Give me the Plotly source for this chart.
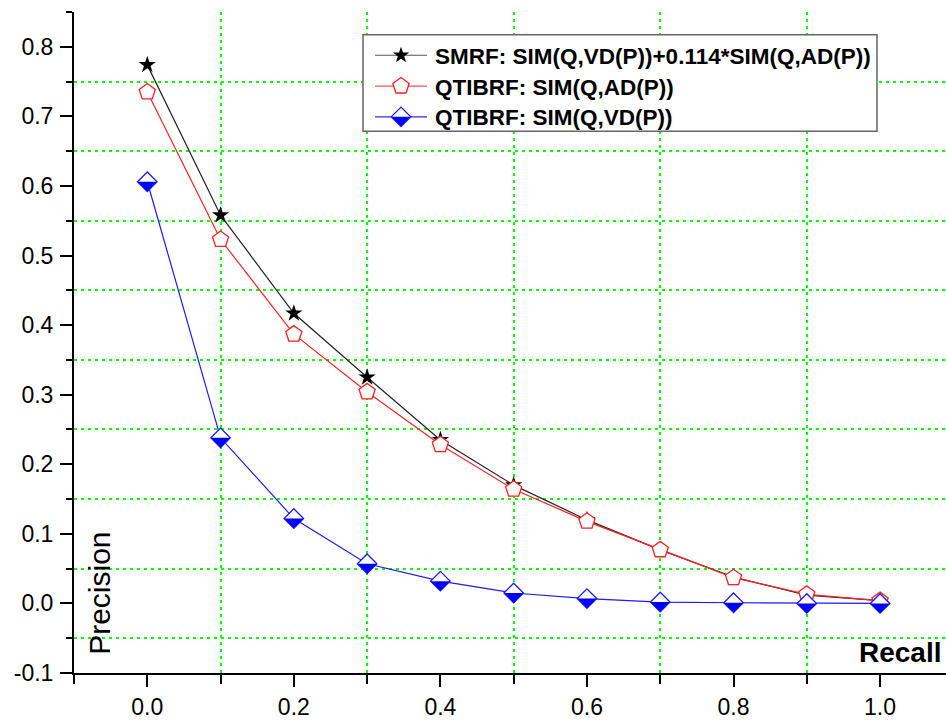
import math
import plotly.graph_objects as go

recall = [0.0, 0.1, 0.2, 0.3, 0.4, 0.5, 0.6, 0.7, 0.8, 0.9, 1.0]
smrf = [0.774, 0.558, 0.417, 0.325, 0.235, 0.170, 0.120, 0.077, 0.038, 0.012, 0.004]
qtibrf_ad = [0.735, 0.523, 0.387, 0.304, 0.228, 0.164, 0.118, 0.077, 0.037, 0.013, 0.004]
qtibrf_vd = [0.606, 0.238, 0.122, 0.057, 0.032, 0.015, 0.007, 0.002, 0.001, 0.0, 0.0]

names = [
    "SMRF: SIM(Q,VD(P))+0.114*SIM(Q,AD(P))",
    "QTIBRF: SIM(Q,AD(P))",
    "QTIBRF: SIM(Q,VD(P))",
]

xtick_vals = [0.0, 0.2, 0.4, 0.6, 0.8, 1.0]
xtick_text = ["0.0", "0.2", "0.4", "0.6", "0.8", "1.0"]
ytick_vals = [-0.1, 0.0, 0.1, 0.2, 0.3, 0.4, 0.5, 0.6, 0.7, 0.8]
ytick_text = ["-0.1", "0.0", "0.1", "0.2", "0.3", "0.4", "0.5", "0.6", "0.7", "0.8"]

FONT = "Liberation Sans, Arial, sans-serif"
GRID = "#00ff00"
BLACK, RED, BLUE = "#111111", "#ff2020", "#1a1aff"

# plot-area geometry (pixels) used to place the hand-built legend
L, R, T, B = 74, 946, 12, 677


def px_x(p):
    return (p - L) / (R - L)


def px_y(p):
    return (B - p) / (B - T)


def poly(points):
    return "M" + " L".join(f"{x:.2f},{y:.2f}" for x, y in points) + " Z"


def star_path(ro, ri):
    pts = []
    for k in range(10):
        a = math.pi / 2 + k * math.pi / 5
        rr = ro if k % 2 == 0 else ri
        pts.append((rr * math.cos(a), rr * math.sin(a)))
    return poly(pts)


def pentagon_path(r):
    return poly([(r * math.cos(math.pi / 2 + k * 2 * math.pi / 5),
                  r * math.sin(math.pi / 2 + k * 2 * math.pi / 5)) for k in range(5)])


DIA = 9.75
HALF = poly([(-DIA, 0), (DIA, 0), (0, -DIA)])
DIAMOND = poly([(-DIA, 0), (0, DIA), (DIA, 0), (0, -DIA)])

fig = go.Figure()
fig.add_trace(go.Scatter(
    x=recall, y=smrf, name=names[0], mode="lines+markers",
    line=dict(color="#222222", width=1.2),
    marker=dict(symbol="star", size=13, color="black", line=dict(width=0)),
))
fig.add_trace(go.Scatter(
    x=recall, y=qtibrf_ad, name=names[1], mode="lines+markers",
    line=dict(color=RED, width=1.2),
    marker=dict(symbol="pentagon", size=17, color="white",
                line=dict(color=RED, width=1.3)),
))
fig.add_trace(go.Scatter(
    x=recall, y=qtibrf_vd, name=names[2], mode="lines+markers",
    line=dict(color=BLUE, width=1.2),
    marker=dict(symbol="diamond", size=15, color="white",
                line=dict(color=BLUE, width=1.3)),
))

shapes = []
# bottom-half fill of the blue diamonds (pixel-sized shapes anchored on the data)
for xv, yv in zip(recall, qtibrf_vd):
    shapes.append(dict(
        type="path", xref="x", yref="y", xsizemode="pixel", ysizemode="pixel",
        xanchor=xv, yanchor=yv, path=HALF,
        fillcolor="#0000ff", line=dict(width=0), layer="above",
    ))

# ---- hand-built legend ----
box = dict(x0=363, x1=877, y0=35, y1=132)
shapes.append(dict(type="rect", xref="paper", yref="paper",
                   x0=px_x(box["x0"]), x1=px_x(box["x1"]),
                   y0=px_y(box["y1"]), y1=px_y(box["y0"]),
                   fillcolor="white", line=dict(color="#666666", width=1.5), layer="above"))
rows = [55.5, 86.5, 117.5]
line_cols = ["#555555", "#ff5050", "#2a2aff"]
line_x0, line_x1, mark_x, text_x = 375, 427, 401, 433
annotations = []
for row, col, name in zip(rows, line_cols, names):
    shapes.append(dict(type="line", xref="paper", yref="paper",
                       x0=px_x(line_x0), x1=px_x(line_x1), y0=px_y(row), y1=px_y(row),
                       line=dict(color=col, width=1.2), layer="above"))
    annotations.append(dict(text=name, xref="paper", yref="paper",
                            x=px_x(text_x), y=px_y(row + 1), showarrow=False,
                            xanchor="left", yanchor="middle",
                            font=dict(family=FONT, size=22.5, color="black", weight="bold")))

marker_specs = [
    (star_path(8.6, 3.4), "black", "black", 0),
    (pentagon_path(8.6), "white", RED, 1.3),
    (DIAMOND, "white", BLUE, 1.3),
]
for row, (path, fill, lc, lw) in zip(rows, marker_specs):
    shapes.append(dict(type="path", xref="paper", yref="paper",
                       xsizemode="pixel", ysizemode="pixel",
                       xanchor=px_x(mark_x), yanchor=px_y(row), path=path,
                       fillcolor=fill, line=dict(color=lc, width=lw), layer="above"))
shapes.append(dict(type="path", xref="paper", yref="paper",
                   xsizemode="pixel", ysizemode="pixel",
                   xanchor=px_x(mark_x), yanchor=px_y(rows[2]), path=HALF,
                   fillcolor="#0000ff", line=dict(width=0), layer="above"))

annotations += [
    dict(text="Precision", xref="paper", yref="paper", x=0.03, y=0.12,
         showarrow=False, textangle=-90, xanchor="center", yanchor="middle",
         font=dict(family=FONT, size=30, color="black")),
    dict(text="<b>Recall</b>", xref="paper", yref="paper", x=0.998, y=0.005,
         showarrow=False, xanchor="right", yanchor="bottom",
         font=dict(family=FONT, size=28, color="black")),
]

fig.update_layout(
    width=946, height=720,
    margin=dict(l=L, r=946 - R, t=T, b=720 - B),
    paper_bgcolor="white", plot_bgcolor="white",
    font=dict(family=FONT, color="black", size=23),
    shapes=shapes,
    annotations=annotations,
    showlegend=False,
    xaxis=dict(
        range=[-0.1, 1.09], tickmode="array", tickvals=xtick_vals, ticktext=xtick_text,
        ticks="outside", ticklen=12, tickwidth=2, tickcolor="black",
        showline=True, linewidth=2, linecolor="black", mirror=False,
        showgrid=False, zeroline=False,
        tickfont=dict(family=FONT, size=23),
        minor=dict(dtick=0.2, tick0=0.1, ticks="outside", ticklen=9, tickwidth=2,
                   tickcolor="black", showgrid=True, gridcolor=GRID, gridwidth=1.5,
                   griddash="3px,4px"),
    ),
    yaxis=dict(
        range=[-0.1, 0.85], tickmode="array", tickvals=ytick_vals, ticktext=ytick_text,
        ticks="outside", ticklen=12, tickwidth=2, tickcolor="black",
        showline=True, linewidth=2, linecolor="black", mirror=False,
        showgrid=False, zeroline=False, ticklabelstandoff=2,
        tickfont=dict(family=FONT, size=23),
        minor=dict(dtick=0.1, tick0=0.05, ticks="outside", ticklen=6, tickwidth=2,
                   tickcolor="black", showgrid=True, gridcolor=GRID, gridwidth=1.5,
                   griddash="3px,4px"),
    ),
)

fig.write_html("out.html")
